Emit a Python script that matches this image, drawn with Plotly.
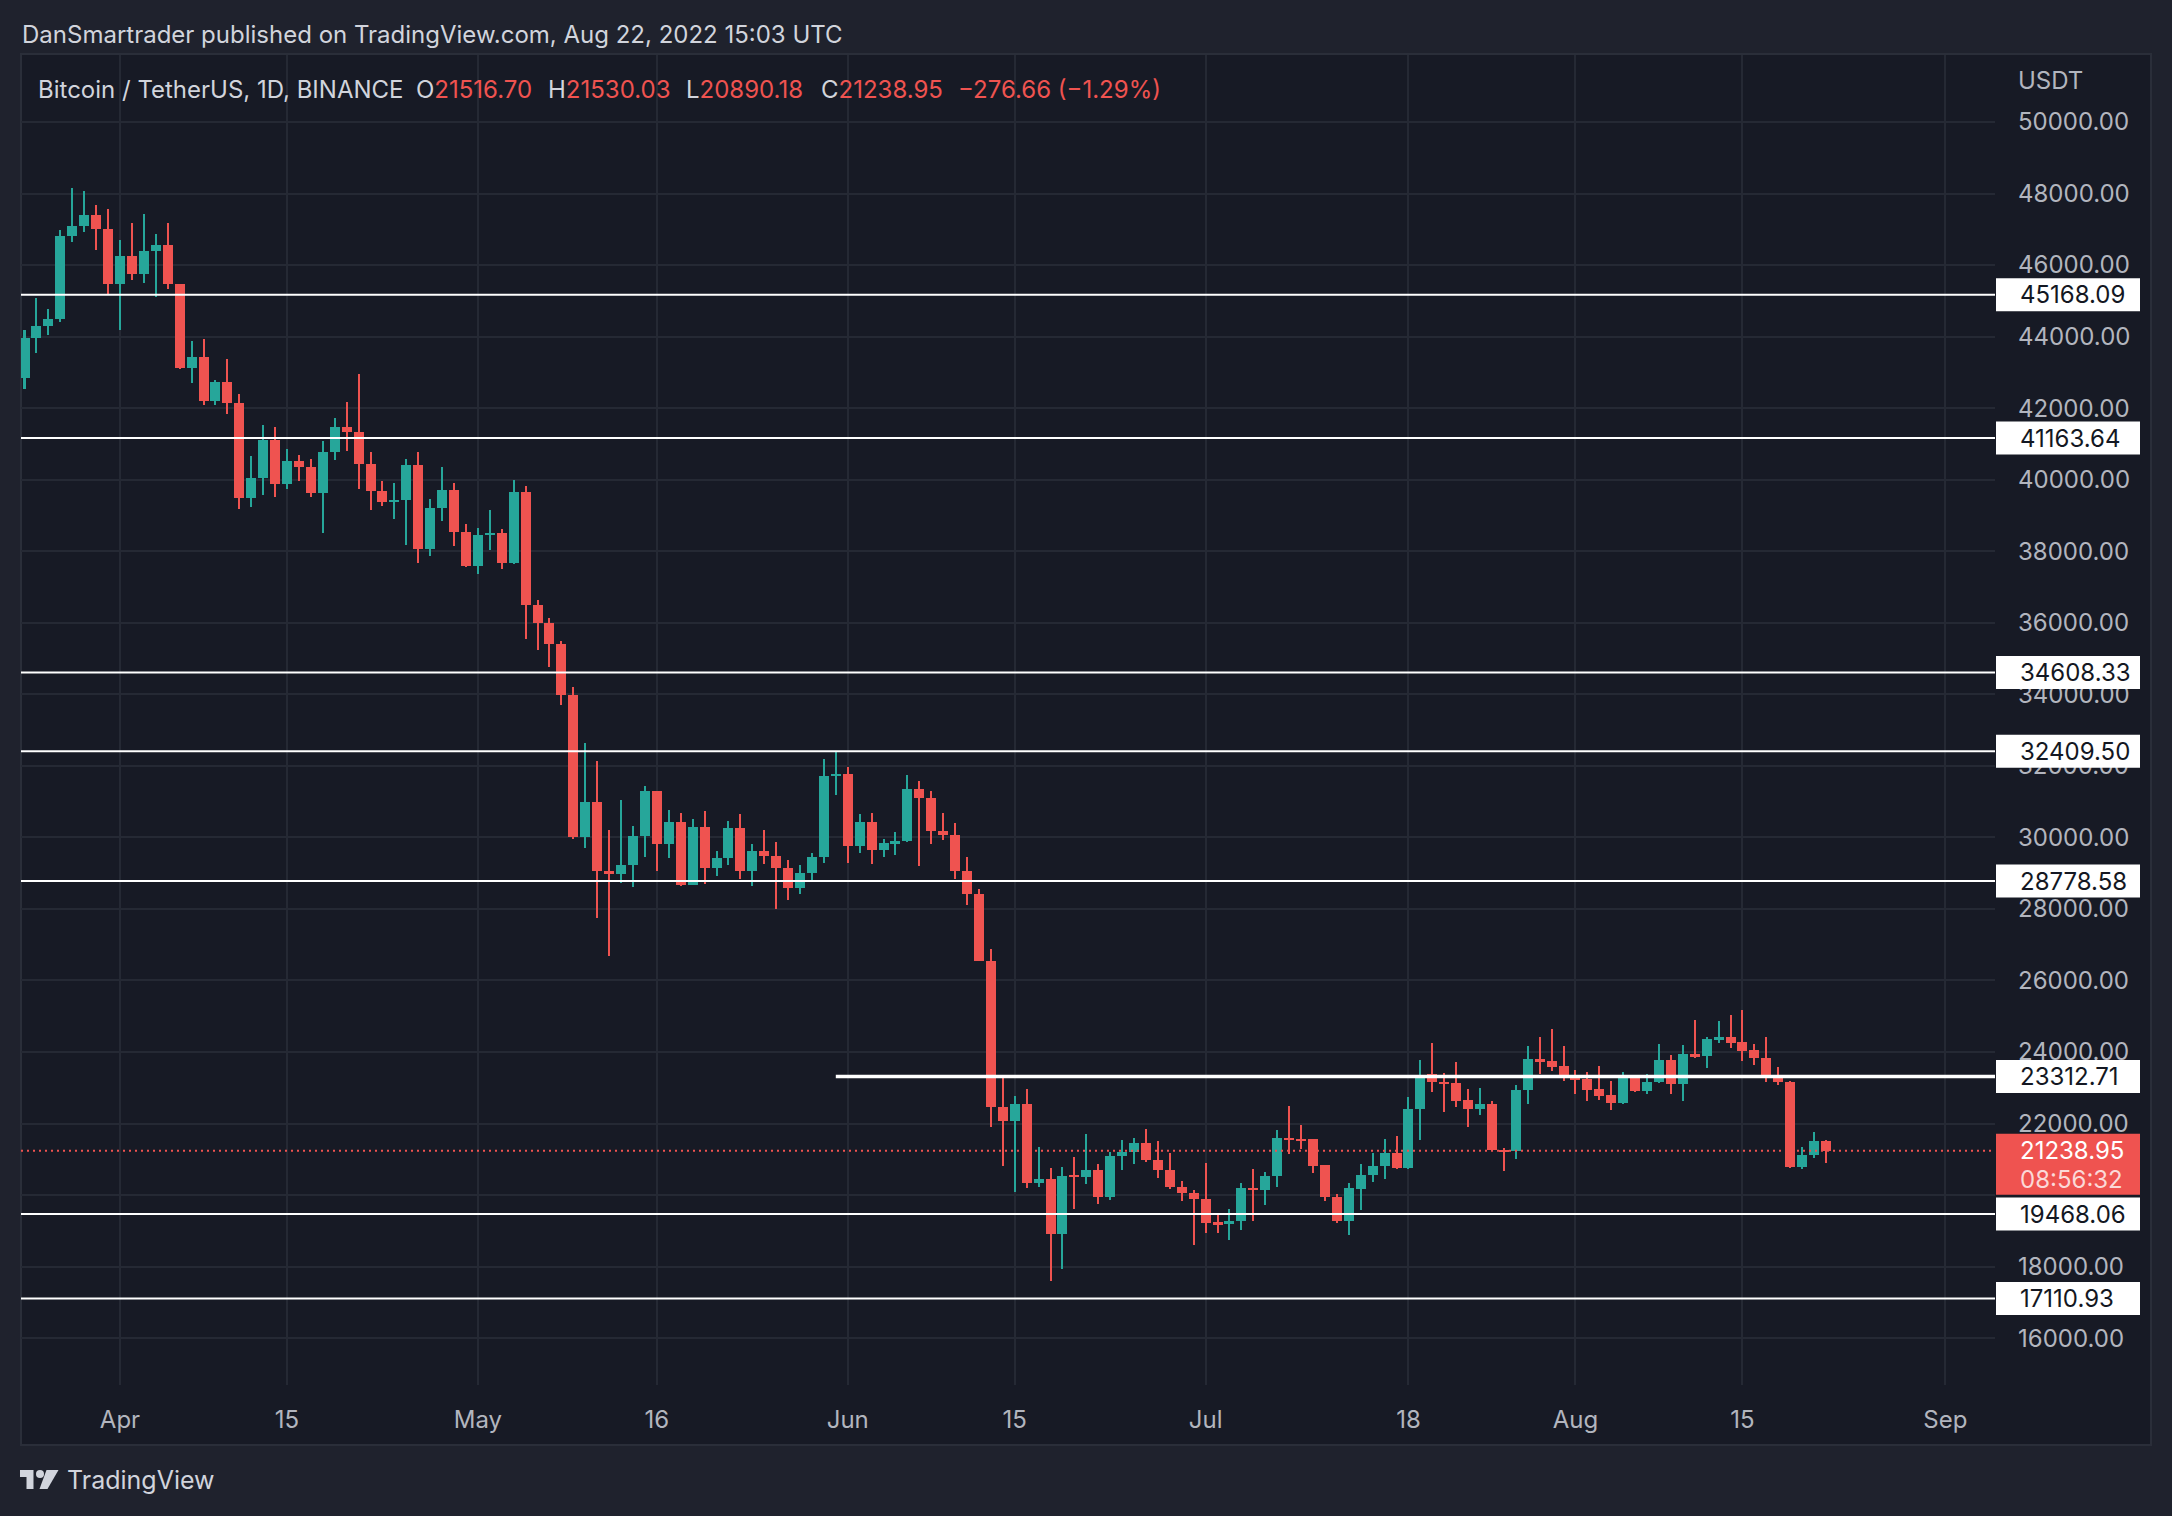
import pandas as pd
import plotly.graph_objects as go

# ---------------- DATA ----------------
dates = pd.date_range("2022-03-24", "2022-08-22", freq="D")

opens = [42850, 43960, 44300, 44490, 46810, 47090, 47400, 47020,
         45480, 46250, 45760, 46390, 46560, 45460, 43130, 43430, 42210, 42730, 42140, 39500,
         40050, 41110, 39890, 40520, 40350, 39640, 40770, 41470, 41320, 40450, 39670, 39390,
         39420, 40410, 38060, 39200, 39710, 38550,
         37590, 38450, 38510, 37670, 39660, 36500, 35980, 35420, 33990, 30010, 30990, 29070,
         28980, 29240, 30050, 31300, 29820, 30430, 28680, 30290, 29150, 29410, 30260, 29070,
         29620, 29490, 29150, 28590, 29000, 29440, 31720,
         31780, 29770, 30430, 29660, 29840, 29890, 31350, 31090, 30170, 30080, 29050, 28430,
         26540, 22450, 22070, 22550, 20340, 20450, 18910, 20560, 20500, 20700, 19950, 21090,
         21210, 21460, 20980, 20710, 20230, 20060,
         19890, 19220, 19190, 19280, 20200, 20140, 20540, 21600, 21570, 21560, 20830, 19940,
         19280, 20180, 20560, 20800, 21180, 20760, 22400, 23380, 23170, 23130, 22650, 22410,
         22550, 21270, 21220, 22940, 23810, 23740, 23600,
         23260, 23240, 22960, 22790, 22580, 23280, 22920, 23160, 23790, 23110, 23940, 23880,
         24340, 24430, 24280, 24050, 23830, 23320, 23160, 20790, 21120, 21516.70]
highs = [44190, 45080, 44770, 46980, 48150, 48070, 47680, 47570,
         46700, 47180, 47430, 46870, 47180, 45460, 43880, 43930, 42790, 43370, 42400, 40660,
         41530, 41470, 40860, 40690, 40580, 41080, 41730, 42170, 42960, 40770, 39960, 39910,
         40580, 40770, 39460, 40360, 39910, 38760,
         38650, 39150, 38620, 39990, 39820, 36640, 36130, 35490, 34200, 32640, 32130, 30210,
         31040, 30320, 31440, 31300, 30770, 30680, 30510, 30740, 29620, 30460, 30650, 29820,
         30210, 29870, 29370, 29230, 29560, 32190, 32390,
         31970, 30650, 30680, 29950, 30150, 31740, 31580, 31300, 30680, 30390, 29440, 28570,
         26880, 23330, 22770, 22970, 21340, 20760, 20780, 21060, 21710, 20870, 21200, 21540,
         21600, 21850, 21510, 21180, 20390, 20140,
         20900, 19440, 19610, 20340, 20730, 20650, 21820, 22490, 21960, 21570, 20840, 20030,
         20340, 20870, 21180, 21570, 21650, 22740, 23780, 24250, 23410, 23720, 22970, 22990,
         22630, 21320, 23080, 24170, 24420, 24640, 24170,
         23500, 23440, 23610, 23190, 23440, 23330, 23390, 24220, 23920, 24200, 24900, 24420,
         24870, 25040, 25170, 24230, 24420, 23580, 23190, 21340, 21760, 21530.03]
lows = [42540, 43550, 44050, 44420, 46650, 46930, 46430, 45160,
        44190, 45590, 45510, 45110, 45340, 43100, 42710, 42100, 42100, 41850, 39180, 39250,
        39580, 39530, 39750, 39970, 39530, 38520, 40560, 40810, 39750, 39160, 39270, 38900,
        38170, 37670, 37870, 38850, 38150, 37560,
        37360, 38040, 37500, 37640, 35550, 35240, 34760, 33700, 29950, 29700, 27750, 26680,
        28720, 28610, 29450, 29060, 29420, 28640, 28670, 28700, 28920, 29230, 28840, 28640,
        29260, 28000, 28250, 28420, 28810, 29280, 31190,
        29280, 29560, 29260, 29450, 29510, 29860, 29200, 29820, 29930, 28850, 28100, 26530,
        21910, 20820, 20090, 20200, 20230, 17600, 17930, 19610, 20310, 19750, 19860, 20700,
        20870, 20920, 20480, 20170, 19830, 18600,
        18940, 18940, 18740, 19020, 19280, 19720, 20230, 21150, 21290, 20620, 19830, 19220,
        18890, 19580, 20370, 20450, 20730, 20730, 21540, 22880, 22320, 22460, 21900, 22240,
        21240, 20670, 21010, 22550, 23390, 23470, 23190,
        22830, 22630, 22660, 22380, 22550, 22880, 22830, 23130, 22830, 22630, 23840, 23560,
        24250, 24110, 23750, 23640, 23160, 23080, 20760, 20730, 21040, 20890.18]
closes = [43960, 44300, 44490, 46810, 47090, 47400, 47020, 45480,
          46250, 45760, 46390, 46560, 45460, 43130, 43430, 42210, 42730, 42140, 39500, 40050,
          41110, 39890, 40520, 40350, 39640, 40770, 41470, 41320, 40450, 39670, 39390, 39420,
          40410, 38060, 39200, 39710, 38550, 37590,
          38450, 38510, 37670, 39660, 36500, 35980, 35420, 33990, 30010, 30990, 29070, 28980,
          29240, 30050, 31300, 29820, 30430, 28680, 30290, 29150, 29410, 30260, 29070, 29620,
          29490, 29150, 28590, 29000, 29440, 31720, 31780,
          29770, 30430, 29660, 29840, 29890, 31350, 31090, 30170, 30080, 29050, 28430, 26540,
          22450, 22070, 22550, 20340, 20450, 18910, 20540, 20500, 20700, 19950, 21090, 21210,
          21460, 20980, 20710, 20230, 20060, 19890,
          19220, 19190, 19280, 20200, 20140, 20540, 21600, 21550, 21520, 20810, 19940, 19280,
          20200, 20560, 20810, 21180, 20760, 22410, 23370, 23170, 23120, 22640, 22410, 22550,
          21270, 21220, 22940, 23810, 23730, 23590, 23260,
          23230, 22950, 22780, 22580, 23280, 22920, 23170, 23790, 23110, 23930, 23870, 24370,
          24430, 24260, 24040, 23820, 23310, 23150, 20790, 21130, 21516, 21238.95]

level_values = [45168.09, 41163.64, 34608.33, 32409.50, 28778.58, 23312.71, 19468.06, 17110.93]
level_labels = ["45168.09", "41163.64", "34608.33", "32409.50", "28778.58", "23312.71", "19468.06", "17110.93"]
level_starts = [None, None, None, None, None, "2022-05-31", None, None]

last_price = 21238.95
last_price_label = "21238.95"
countdown_label = "08:56:32"

y_tick_values = [16000, 18000, 20000, 22000, 24000, 26000, 28000, 30000, 32000, 34000,
                 36000, 38000, 40000, 42000, 44000, 46000, 48000, 50000]
# 20000.00 sits fully behind the price labels in the reference
y_tick_labels = ["16000.00", "18000.00", "", "22000.00", "24000.00", "26000.00", "28000.00",
                 "30000.00", "32000.00", "34000.00", "36000.00", "38000.00", "40000.00",
                 "42000.00", "44000.00", "46000.00", "48000.00", "50000.00"]

x_tick_dates = ["2022-04-01", "2022-04-15", "2022-05-01", "2022-05-16", "2022-06-01", "2022-06-15",
                "2022-07-01", "2022-07-18", "2022-08-01", "2022-08-15", "2022-09-01"]
x_tick_labels = ["Apr", "15", "May", "16", "Jun", "15", "Jul", "18", "Aug", "15", "Sep"]

header_text = "DanSmartrader published on TradingView.com, Aug 22, 2022 15:03 UTC"
symbol_text = "Bitcoin / TetherUS, 1D, BINANCE"
ohlc_names = ["O", "H", "L", "C"]
ohlc_values = ["21516.70", "21530.03", "20890.18", "21238.95"]
change_text = "\u2212276.66 (\u22121.29%)"

# ---------------- STYLE / GEOMETRY ----------------
W, H = 2172, 1516
PL, PR, PT, PB = 21, 1995, 55, 1385
PX_PER_DAY = 11.93
APR1_PX = 120
Y_RANGE = [14690, 51873]
PX_PER_UNIT = (PB - PT) / (Y_RANGE[1] - Y_RANGE[0])

OUTER = "#1f222d"
PANEL = "#171a25"
GRID = "#252934"
UP = "#26a69a"
DOWN = "#ef5350"
TXT = "#d1d4dc"
AXT = "#b2b5be"
FONT = "Inter, Roboto, sans-serif"


def pxx(px):
    return (px - PL) / (PR - PL)


def pxy(py):
    return (PB - py) / (PB - PT)


apr1 = pd.Timestamp("2022-04-01")
x0 = apr1 + pd.Timedelta(days=(PL - APR1_PX) / PX_PER_DAY)
x1 = apr1 + pd.Timedelta(days=(PR - APR1_PX) / PX_PER_DAY)

day_ms = 86400000
body_w = 10 / PX_PER_DAY * day_ms
wick_w = 2 / PX_PER_DAY * day_ms

colors = [UP if c >= o else DOWN for o, c in zip(opens, closes)]
body_base = [min(o, c) for o, c in zip(opens, closes)]
body_h = [max(abs(c - o), 45) for o, c in zip(opens, closes)]
wick_h = [h - l for h, l in zip(highs, lows)]

fig = go.Figure()
fig.add_trace(go.Bar(x=dates, y=wick_h, base=lows, width=wick_w,
                     marker=dict(color=colors, line=dict(width=0)), hoverinfo="skip"))
fig.add_trace(go.Bar(x=dates, y=body_h, base=body_base, width=body_w,
                     marker=dict(color=colors, line=dict(width=0)), hoverinfo="skip"))

shapes = []
# panel background
shapes.append(dict(type="rect", xref="paper", yref="paper", x0=pxx(PL), x1=pxx(2151),
                   y0=pxy(1445), y1=pxy(PT - 1), fillcolor=PANEL,
                   line=dict(color="#2a2e39", width=2), layer="below"))

half_box = 16.5 / PX_PER_UNIT
for v, s in zip(level_values, level_starts):
    w = 3.5 if s is not None else 2
    if s is None:
        shapes.append(dict(type="line", xref="paper", yref="y", x0=0, x1=1, y0=v, y1=v,
                           line=dict(color="#ffffff", width=w), layer="above"))
    else:
        shapes.append(dict(type="line", xref="x", yref="y", x0=s, x1=x1, y0=v, y1=v,
                           line=dict(color="#ffffff", width=w), layer="above"))
    shapes.append(dict(type="rect", xref="paper", yref="y", x0=pxx(1996), x1=pxx(2140),
                       y0=v - half_box, y1=v + half_box, fillcolor="#ffffff",
                       line=dict(width=0), layer="above"))

# last price dotted line and box
shapes.append(dict(type="line", xref="paper", yref="y", x0=0, x1=1, y0=last_price, y1=last_price,
                   line=dict(color=DOWN, width=2, dash="2px,4px"), layer="above"))
shapes.append(dict(type="rect", xref="paper", yref="y", x0=pxx(1996), x1=pxx(2140),
                   y0=last_price - 44 / PX_PER_UNIT, y1=last_price + 17 / PX_PER_UNIT,
                   fillcolor=DOWN, line=dict(width=0), layer="above"))


# TradingView logo
def P(px, py):
    return f"{pxx(px):.5f},{pxy(py):.5f}"


shapes.append(dict(type="path", xref="paper", yref="paper",
                   path=f"M {P(20,1470)} L {P(33.5,1470)} L {P(33.5,1489)} L {P(26.5,1489)} L {P(26.5,1477)} L {P(20,1477)} Z",
                   fillcolor=TXT, line=dict(width=0)))
shapes.append(dict(type="circle", xref="paper", yref="paper",
                   x0=pxx(36), x1=pxx(44), y0=pxy(1478), y1=pxy(1470),
                   fillcolor=TXT, line=dict(width=0)))
shapes.append(dict(type="path", xref="paper", yref="paper",
                   path=f"M {P(46.5,1470)} L {P(58.5,1470)} L {P(47.5,1489)} L {P(39.5,1489)} Z",
                   fillcolor=TXT, line=dict(width=0)))

ann = []
for v, t in zip(level_values, level_labels):
    ann.append(dict(xref="paper", yref="y", x=pxx(2018), y=v, text=t, showarrow=False,
                    xanchor="left", yanchor="middle", font=dict(family=FONT, size=24, color="#131722")))
ann.append(dict(xref="paper", yref="y", x=pxx(2018), y=last_price, text=last_price_label, showarrow=False,
                xanchor="left", yanchor="middle", font=dict(family=FONT, size=24, color="#ffffff")))
ann.append(dict(xref="paper", yref="y", x=pxx(2018), y=last_price - 29 / PX_PER_UNIT, text=countdown_label,
                showarrow=False, xanchor="left", yanchor="middle",
                font=dict(family=FONT, size=24, color="rgba(255,255,255,0.78)")))
ann.append(dict(xref="paper", yref="paper", x=pxx(2016), y=pxy(80), text="USDT", showarrow=False,
                xanchor="left", yanchor="middle", font=dict(family=FONT, size=24, color=AXT)))
ann.append(dict(xref="paper", yref="paper", x=pxx(20), y=pxy(35), text=header_text, showarrow=False,
                xanchor="left", yanchor="middle", font=dict(family=FONT, size=24, color=TXT)))
ann.append(dict(xref="paper", yref="paper", x=pxx(36), y=pxy(89), text=symbol_text, showarrow=False,
                xanchor="left", yanchor="middle", font=dict(family=FONT, size=24, color=TXT)))
ohlc_px = [414, 546, 684, 819]
for name, val, px in zip(ohlc_names, ohlc_values, ohlc_px):
    ann.append(dict(xref="paper", yref="paper", x=pxx(px), y=pxy(89),
                    text=f"{name}<span style='color:{DOWN}'>{val}</span>", showarrow=False,
                    xanchor="left", yanchor="middle", font=dict(family=FONT, size=24, color=TXT)))
ann.append(dict(xref="paper", yref="paper", x=pxx(956), y=pxy(89), text=change_text, showarrow=False,
                xanchor="left", yanchor="middle", font=dict(family=FONT, size=24, color=DOWN)))
ann.append(dict(xref="paper", yref="paper", x=pxx(65), y=pxy(1480), text="TradingView", showarrow=False,
                xanchor="left", yanchor="middle", font=dict(family=FONT, size=25, color=TXT)))

fig.update_layout(
    width=W, height=H,
    margin=dict(l=PL, r=W - PR, t=PT, b=H - PB, pad=0),
    paper_bgcolor=OUTER, plot_bgcolor=PANEL,
    barmode="overlay", showlegend=False, bargap=0,
    shapes=shapes, annotations=ann,
    font=dict(family=FONT, color=AXT, size=24),
    xaxis=dict(range=[x0, x1], tickvals=x_tick_dates, ticktext=x_tick_labels,
               showgrid=True, gridcolor=GRID, gridwidth=2, zeroline=False, showline=False,
               ticks="", ticklabelstandoff=18, tickfont=dict(family=FONT, size=24, color=AXT),
               fixedrange=True),
    yaxis=dict(range=Y_RANGE, side="right", tickvals=y_tick_values, ticktext=y_tick_labels,
               showgrid=True, gridcolor=GRID, gridwidth=2, zeroline=False, showline=False,
               ticks="", ticklabelstandoff=22, tickfont=dict(family=FONT, size=24, color=AXT),
               fixedrange=True),
)

fig.write_html("out.html", config={"displayModeBar": False},
               post_script="document.body.style.margin='0';document.body.style.overflow='hidden';")
